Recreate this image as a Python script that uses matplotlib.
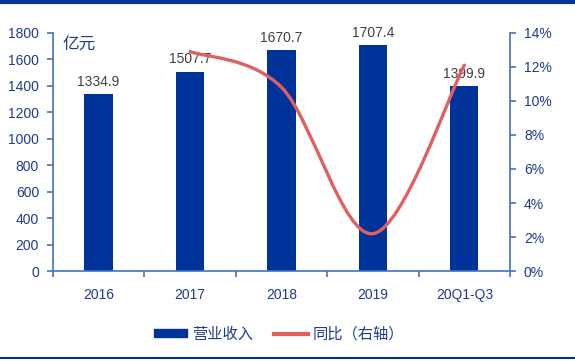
import numpy as np
import matplotlib
matplotlib.use("Agg")
import matplotlib.pyplot as plt
from matplotlib.path import Path
from matplotlib.patches import PathPatch, Rectangle
from matplotlib.lines import Line2D

plt.rcParams['font.family'] = ['Liberation Sans', 'Noto Sans CJK SC', 'DejaVu Sans']

categories = ['2016', '2017', '2018', '2019', '20Q1-Q3']
revenue = [1334.9, 1507.7, 1670.7, 1707.4, 1399.9]
growth_x = [1, 2, 3, 4]
growth = [12.9, 10.8, 2.2, 12.1]

bar_color = '#003399'
line_color = '#E06060'
axis_color = '#4472C4'
text_color = '#1F3A8F'


def smooth_path(xs, ys):
    # excel-like smoothed line: cubic bezier with catmull-rom control points
    pts = np.column_stack([xs, ys]).astype(float)
    verts = [pts[0]]
    codes = [Path.MOVETO]
    n = len(pts)
    for i in range(n - 1):
        p0 = pts[i - 1] if i > 0 else pts[i]
        p1 = pts[i]
        p2 = pts[i + 1]
        p3 = pts[i + 2] if i + 2 < n else pts[i + 1]
        c1 = p1 + (p2 - p0) / 6
        c2 = p2 - (p3 - p1) / 6
        verts += [c1, c2, p2]
        codes += [Path.CURVE4] * 3
    return Path(verts, codes)


fig = plt.figure(figsize=(5.75, 3.61), dpi=100)
ax = fig.add_axes([0.092, 0.249, 0.795, 0.66])
x = np.arange(len(categories))
ax.bar(x, revenue, width=0.31, color=bar_color, zorder=2)
for xi, v in zip(x, revenue):
    ax.text(xi, v + 40, f'{v:.1f}', ha='center', va='bottom', fontsize=10, color='#404040', zorder=5)

ax.set_xlim(-0.5, 4.5)
ax.set_ylim(0, 1800)
ax.set_yticks(np.arange(0, 1801, 200))
ax.set_xticks(x)
ax.set_xticklabels(categories)
ax.set_xticks(np.arange(-0.5, 4.6, 1), minor=True)
ax.tick_params(axis='x', which='major', length=0, pad=12, labelsize=10, labelcolor=text_color)
ax.tick_params(axis='x', which='minor', length=4, color=axis_color, width=1.2)
ax.tick_params(axis='y', length=4, color=axis_color, width=1.2, labelsize=10, labelcolor=text_color, pad=6)
for s in ['top', 'right']:
    ax.spines[s].set_visible(False)
for s in ['left', 'bottom']:
    ax.spines[s].set_color(axis_color)
    ax.spines[s].set_linewidth(1.2)
ax.text(0.02, 0.985, '亿元', transform=ax.transAxes, fontsize=12, color=text_color,
        va='top', ha='left', family=['Noto Sans CJK SC', 'DejaVu Sans'])

ax2 = ax.twinx()
ax2.set_ylim(0, 14)
ax2.set_yticks(np.arange(0, 15, 2))
ax2.set_yticklabels([f'{v}%' for v in range(0, 15, 2)])
ax2.tick_params(axis='y', length=4, color=axis_color, width=1.2, labelsize=10, labelcolor=text_color, pad=6)
for s in ['top', 'left', 'bottom']:
    ax2.spines[s].set_visible(False)
ax2.spines['right'].set_color(axis_color)
ax2.spines['right'].set_linewidth(1.2)
ax2.add_patch(PathPatch(smooth_path(growth_x, growth), facecolor='none', edgecolor=line_color,
                        lw=2.4, capstyle='round', zorder=3))

handles = [Rectangle((0, 0), 1, 1, color=bar_color),
           Line2D([0], [0], color=line_color, lw=3)]
fig.legend(handles, ['营业收入', '同比（右轴）'], loc='center', bbox_to_anchor=(0.485, 0.075),
           ncol=2, frameon=False, handlelength=2.2, handleheight=0.5, columnspacing=1.4,
           handletextpad=0.3, prop={'family': ['Noto Sans CJK SC', 'DejaVu Sans'], 'size': 11},
           labelcolor=text_color)

fig.add_artist(Line2D([0, 1], [0.995, 0.995], transform=fig.transFigure, color=bar_color, lw=3))
fig.add_artist(Line2D([0, 1], [0.008, 0.008], transform=fig.transFigure, color=bar_color, lw=1.5))

fig.savefig('out.png', dpi=100)
